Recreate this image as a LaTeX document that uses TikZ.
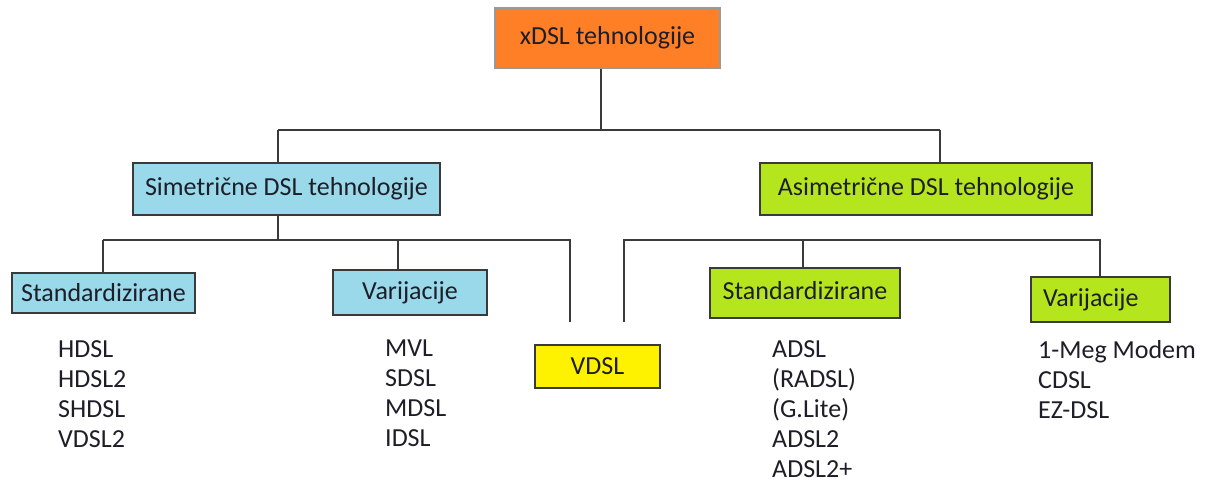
\documentclass[tikz,border=0pt]{standalone}
\usepackage{fontspec}
\setmainfont{Carlito}
\definecolor{orng}{HTML}{FF7F27}
\definecolor{lblue}{HTML}{99D9EA}
\definecolor{lime}{HTML}{B5E61D}
\definecolor{yel}{HTML}{FFF200}
\definecolor{txt}{HTML}{1E1E28}
\definecolor{edge}{HTML}{3A3A3A}
\begin{document}
\begin{tikzpicture}[x=1pt,y=-1pt,
  font=\fontsize{26}{30}\selectfont, text=txt,
  box/.style={draw=edge, line width=2pt, inner sep=0pt, anchor=center},
  conn/.style={draw=edge, line width=2pt},
  lst/.style={anchor=north west, inner sep=0pt, align=left, font=\fontsize{26}{30}\selectfont}]
\useasboundingbox (0,0) rectangle (1205,484);
\fill[white] (0,0) rectangle (1205,484);

\node[box, draw=gray!80, fill=orng, minimum width=225pt, minimum height=60pt] (top) at (607.5,38) {xDSL tehnologije};
\node[box, fill=lblue, minimum width=307pt, minimum height=52pt] (sim) at (286.5,189) {Simetrične DSL tehnologije};
\node[box, fill=lime, minimum width=332pt, minimum height=52pt] (asim) at (926,189) {Asimetrične DSL tehnologije};
\node[box, fill=lblue, minimum width=183pt, minimum height=40pt] (stdL) at (103.5,293) {Standardizirane};
\node[box, fill=lblue, minimum width=154pt, minimum height=45pt] (varL) at (410,292.5) {Varijacije};
\node[box, fill=lime, minimum width=190pt, minimum height=50pt] (stdR) at (805,293) {\raisebox{6pt}{Standardizirane}};
\node[box, fill=lime, minimum width=139pt, minimum height=45pt, text width=115pt, align=left, inner xsep=12pt] (varR) at (1100.5,299.5) {Varijacije};
\node[box, fill=yel, minimum width=125pt, minimum height=43pt] (vdsl) at (597.5,366.5) {VDSL};

\node[lst] (l1) at (58,340) {HDSL\\HDSL2\\SHDSL\\VDSL2};
\node[lst] (l2) at (385,340) {MVL\\SDSL\\MDSL\\IDSL};
\node[lst] (l3) at (772,340) {ADSL\\(RADSL)\\(G.Lite)\\ADSL2\\ADSL2+};
\node[lst] (l4) at (1038,340) {1-Meg Modem\\CDSL\\EZ-DSL};

\coordinate (j0) at (601,130);
\coordinate (jS) at (278,130);
\coordinate (jA) at (940,130);
\coordinate (kS) at (278,240);
\coordinate (kL1) at (103,240);
\coordinate (kL2) at (398,240);
\coordinate (kL3) at (570,240);
\coordinate (eL3) at (570,322);
\coordinate (kR1) at (624,240);
\coordinate (kR2) at (803,240);
\coordinate (kR3) at (1100,240);
\coordinate (eR1) at (624,322);

\draw[conn] (top.south -| j0) -- (j0);
\draw[conn] (jS) -- (jA);
\draw[conn] (jS) -- (jS |- sim.north);
\draw[conn] (jA) -- (jA |- asim.north);
\draw[conn] (sim.south -| kS) -- (kS);
\draw[conn] (kL1) -- (kL3) -- (eL3);
\draw[conn] (kL1) -- (kL1 |- stdL.north);
\draw[conn] (kL2) -- (kL2 |- varL.north);
\draw[conn] (eR1) -- (kR1) -- (kR3) -- (kR3 |- varR.north);
\draw[conn] (kR2) -- (kR2 |- stdR.north);
\end{tikzpicture}
\end{document}
